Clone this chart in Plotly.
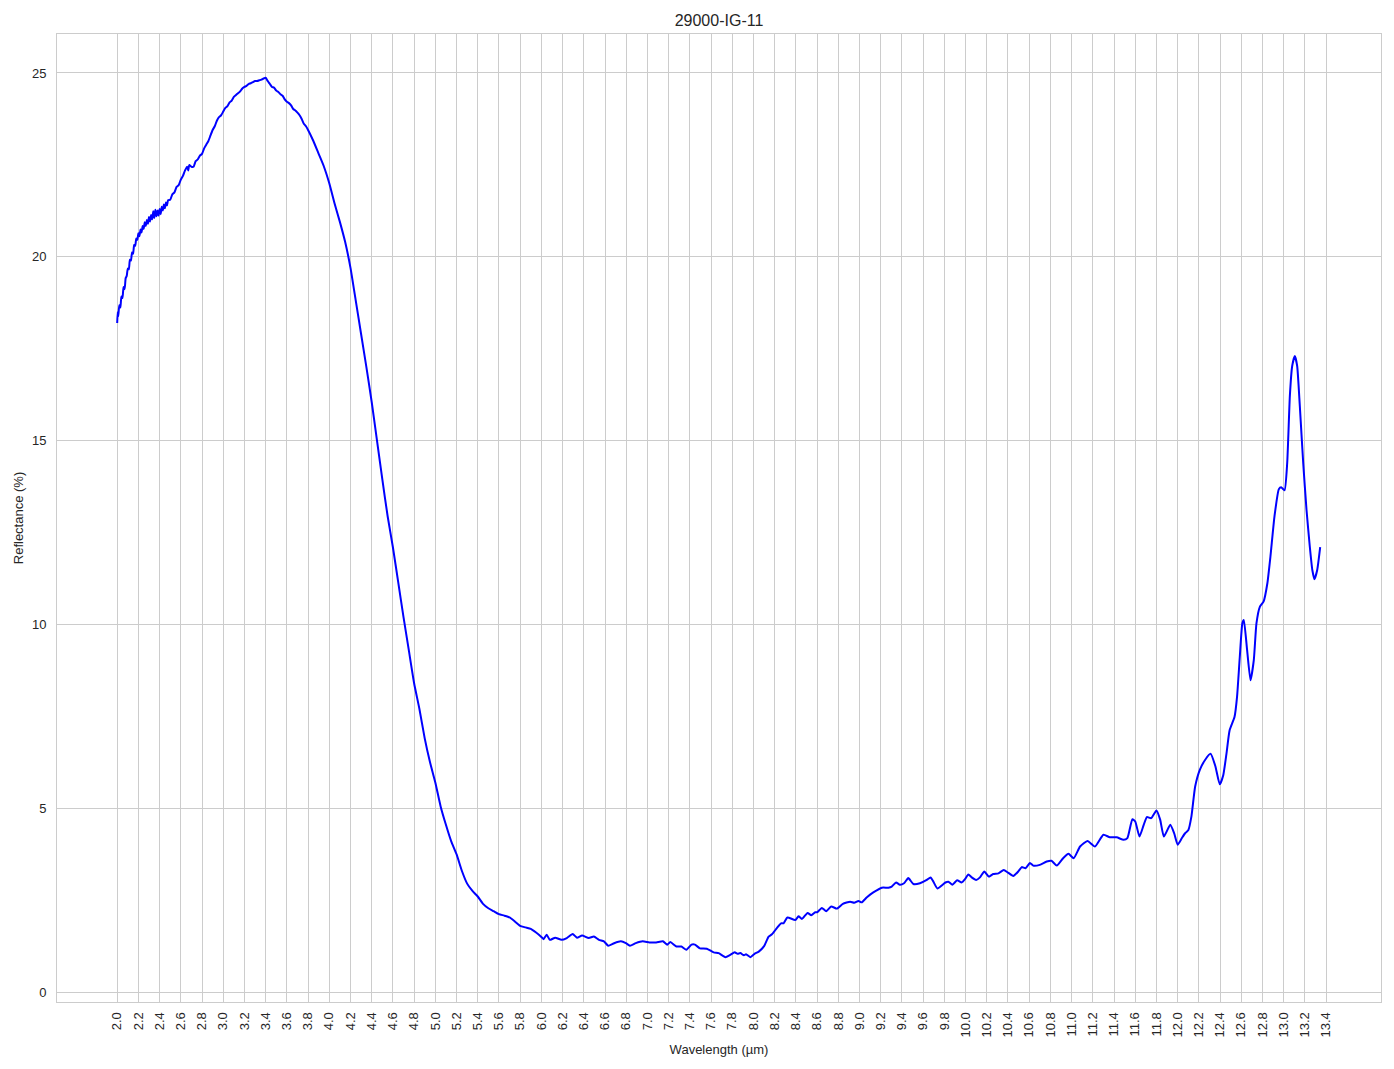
import plotly.graph_objects as go

wavelength = [
    2.000, 2.005, 2.010, 2.020, 2.030, 2.040, 2.050, 2.060, 2.070, 2.080,
    2.090, 2.100, 2.110, 2.120, 2.130, 2.140, 2.150, 2.160, 2.170, 2.180,
    2.190, 2.200, 2.210, 2.220, 2.230, 2.240, 2.250, 2.260, 2.270, 2.280,
    2.290, 2.300, 2.310, 2.320, 2.330, 2.340, 2.350, 2.360, 2.370, 2.380,
    2.390, 2.400, 2.410, 2.420, 2.430, 2.440, 2.450, 2.460, 2.470, 2.480,
    2.500, 2.520, 2.540, 2.560, 2.580, 2.600, 2.620, 2.640, 2.660, 2.670,
    2.680, 2.700, 2.720, 2.740, 2.760, 2.780, 2.800, 2.820, 2.840, 2.860,
    2.880, 2.900, 2.920, 2.940, 2.960, 2.980, 3.000, 3.020, 3.040, 3.060,
    3.080, 3.100, 3.120, 3.140, 3.160, 3.180, 3.200, 3.220, 3.240, 3.260,
    3.280, 3.300, 3.320, 3.340, 3.360, 3.380, 3.400, 3.420, 3.440, 3.460,
    3.480, 3.500, 3.520, 3.540, 3.560, 3.580, 3.600, 3.620, 3.640, 3.660,
    3.680, 3.700, 3.720, 3.740, 3.760, 3.780, 3.800, 3.850, 3.900, 3.950,
    4.000, 4.050, 4.100, 4.150, 4.200, 4.250, 4.300, 4.350, 4.400, 4.450,
    4.500, 4.550, 4.600, 4.650, 4.700, 4.750, 4.800, 4.850, 4.900, 4.950,
    5.000, 5.050, 5.100, 5.150, 5.200, 5.250, 5.300, 5.350, 5.400, 5.450,
    5.500, 5.550, 5.600, 5.650, 5.700, 5.750, 5.800, 5.850, 5.900, 5.950,
    6.000, 6.020, 6.050, 6.080, 6.130, 6.190, 6.240, 6.295, 6.336, 6.384,
    6.447, 6.495, 6.543, 6.590, 6.630, 6.686, 6.750, 6.797, 6.835, 6.890,
    6.955, 7.019, 7.083, 7.146, 7.187, 7.216, 7.273, 7.320, 7.368, 7.416,
    7.448, 7.495, 7.560, 7.625, 7.672, 7.735, 7.780, 7.823, 7.850, 7.876,
    7.910, 7.930, 7.970, 8.010, 8.050, 8.100, 8.143, 8.174, 8.220, 8.260,
    8.284, 8.320, 8.394, 8.425, 8.457, 8.510, 8.545, 8.582, 8.600, 8.645,
    8.686, 8.733, 8.786, 8.843, 8.912, 8.950, 8.990, 9.020, 9.070, 9.130,
    9.210, 9.273, 9.304, 9.345, 9.380, 9.420, 9.460, 9.508, 9.570, 9.634,
    9.670, 9.697, 9.734, 9.810, 9.838, 9.876, 9.920, 9.963, 9.995, 10.026,
    10.058, 10.100, 10.136, 10.177, 10.220, 10.260, 10.310, 10.360, 10.400, 10.450,
    10.497, 10.530, 10.566, 10.607, 10.638, 10.700, 10.765, 10.810, 10.860, 10.920,
    10.970, 11.020, 11.080, 11.150, 11.220, 11.300, 11.360, 11.425, 11.490, 11.526,
    11.573, 11.600, 11.640, 11.680, 11.710, 11.750, 11.800, 11.835, 11.870, 11.930,
    11.967, 12.000, 12.040, 12.070, 12.100, 12.130, 12.165, 12.210, 12.260, 12.310,
    12.355, 12.397, 12.430, 12.460, 12.490, 12.536, 12.560, 12.586, 12.610, 12.624,
    12.655, 12.687, 12.718, 12.743, 12.775, 12.810, 12.846, 12.875, 12.913, 12.954,
    12.976, 13.008, 13.033, 13.058, 13.080, 13.105, 13.127, 13.152, 13.184, 13.215,
    13.246, 13.270, 13.290, 13.316, 13.344,
]

reflectance = [
    18.20, 18.50, 18.38, 18.68, 18.62, 18.92, 18.88, 19.18, 19.12, 19.42,
    19.48, 19.68, 19.66, 19.92, 19.90, 20.12, 20.08, 20.32, 20.30, 20.50,
    20.46, 20.64, 20.56, 20.74, 20.66, 20.84, 20.76, 20.94, 20.84, 21.00,
    20.90, 21.08, 20.96, 21.14, 21.02, 21.24, 21.06, 21.28, 21.10, 21.26,
    21.12, 21.30, 21.16, 21.36, 21.26, 21.42, 21.32, 21.48, 21.40, 21.54,
    21.55, 21.70, 21.75, 21.90, 21.95, 22.10, 22.20, 22.35, 22.45, 22.35,
    22.50, 22.45, 22.45, 22.60, 22.65, 22.75, 22.80, 22.95, 23.05, 23.15,
    23.30, 23.45, 23.55, 23.70, 23.80, 23.85, 23.95, 24.05, 24.10, 24.20,
    24.25, 24.35, 24.40, 24.45, 24.50, 24.58, 24.62, 24.65, 24.70, 24.72,
    24.75, 24.78, 24.78, 24.80, 24.82, 24.85, 24.87, 24.78, 24.70, 24.62,
    24.60, 24.52, 24.48, 24.42, 24.38, 24.28, 24.22, 24.18, 24.12, 24.02,
    23.98, 23.92, 23.85, 23.75, 23.62, 23.55, 23.45, 23.15, 22.80, 22.45,
    22.00, 21.45, 20.95, 20.40, 19.70, 18.80, 17.90, 17.00, 16.05, 15.00,
    13.95, 12.95, 12.10, 11.15, 10.20, 9.30, 8.40, 7.70, 6.90, 6.25,
    5.70, 5.05, 4.55, 4.10, 3.75, 3.30, 2.95, 2.75, 2.60, 2.40,
    2.28, 2.20, 2.12, 2.08, 2.03, 1.92, 1.80, 1.76, 1.72, 1.62,
    1.50, 1.44, 1.56, 1.42, 1.48, 1.42, 1.47, 1.58, 1.48, 1.54,
    1.47, 1.51, 1.42, 1.38, 1.26, 1.33, 1.38, 1.33, 1.26, 1.33,
    1.38, 1.35, 1.35, 1.38, 1.29, 1.36, 1.24, 1.24, 1.15, 1.29,
    1.29, 1.19, 1.18, 1.08, 1.06, 0.95, 1.01, 1.08, 1.04, 1.06,
    1.00, 1.03, 0.95, 1.04, 1.10, 1.25, 1.51, 1.57, 1.74, 1.87,
    1.87, 2.03, 1.96, 2.06, 1.99, 2.15, 2.09, 2.17, 2.17, 2.29,
    2.20, 2.33, 2.27, 2.40, 2.46, 2.43, 2.48, 2.44, 2.58, 2.71,
    2.84, 2.84, 2.87, 2.98, 2.92, 2.96, 3.10, 2.94, 2.96, 3.05,
    3.12, 3.00, 2.82, 2.98, 3.00, 2.92, 3.04, 2.98, 3.07, 3.20,
    3.12, 3.05, 3.12, 3.28, 3.14, 3.21, 3.23, 3.32, 3.25, 3.16,
    3.28, 3.40, 3.37, 3.51, 3.44, 3.46, 3.55, 3.57, 3.44, 3.64,
    3.76, 3.64, 3.96, 4.11, 3.96, 4.28, 4.21, 4.21, 4.14, 4.19,
    4.70, 4.64, 4.23, 4.55, 4.76, 4.73, 4.94, 4.69, 4.23, 4.55,
    4.32, 4.01, 4.19, 4.32, 4.40, 4.78, 5.59, 6.05, 6.32, 6.48,
    6.15, 5.65, 5.90, 6.48, 7.12, 7.48, 8.03, 9.12, 10.03, 10.12,
    9.30, 8.48, 9.03, 10.03, 10.48, 10.62, 11.12, 11.85, 12.94, 13.68,
    13.73, 13.65, 14.39, 16.21, 17.03, 17.30, 17.03, 15.94, 14.39, 13.12,
    12.12, 11.48, 11.23, 11.48, 12.10,
]

x_tick_values = [
    2.0, 2.2, 2.4, 2.6, 2.8, 3.0, 3.2, 3.4, 3.6, 3.8, 4.0, 4.2, 4.4, 4.6, 4.8,
    5.0, 5.2, 5.4, 5.6, 5.8, 6.0, 6.2, 6.4, 6.6, 6.8, 7.0, 7.2, 7.4, 7.6, 7.8,
    8.0, 8.2, 8.4, 8.6, 8.8, 9.0, 9.2, 9.4, 9.6, 9.8, 10.0, 10.2, 10.4, 10.6,
    10.8, 11.0, 11.2, 11.4, 11.6, 11.8, 12.0, 12.2, 12.4, 12.6, 12.8, 13.0,
    13.2, 13.4,
]
x_tick_labels = [
    "2.0", "2.2", "2.4", "2.6", "2.8", "3.0", "3.2", "3.4", "3.6", "3.8", "4.0",
    "4.2", "4.4", "4.6", "4.8", "5.0", "5.2", "5.4", "5.6", "5.8", "6.0", "6.2",
    "6.4", "6.6", "6.8", "7.0", "7.2", "7.4", "7.6", "7.8", "8.0", "8.2", "8.4",
    "8.6", "8.8", "9.0", "9.2", "9.4", "9.6", "9.8", "10.0", "10.2", "10.4",
    "10.6", "10.8", "11.0", "11.2", "11.4", "11.6", "11.8", "12.0", "12.2",
    "12.4", "12.6", "12.8", "13.0", "13.2", "13.4",
]
y_tick_values = [0, 5, 10, 15, 20, 25]
y_tick_labels = ["0", "5", "10", "15", "20", "25"]

TEXT = "#262626"
GRID = "#cccccc"
FONT = "Liberation Sans, Arial, sans-serif"

fig = go.Figure()
fig.add_trace(go.Scatter(
    x=wavelength, y=reflectance, mode="lines",
    line=dict(color="#0000ff", width=2, shape="spline", smoothing=0.5),
    showlegend=False,
))

fig.update_layout(
    width=1394, height=1069,
    margin=dict(l=57, r=13, t=34, b=67),
    paper_bgcolor="white", plot_bgcolor="white",
    font=dict(family=FONT, color=TEXT, size=13),
    title=dict(text="29000-IG-11", x=0.5, xref="paper", xanchor="center",
               y=1 - 20 / 1069, yref="container", yanchor="middle",
               font=dict(size=16, color=TEXT, family=FONT)),
    xaxis=dict(
        range=[1.4325, 13.9175], automargin=False,
        tickmode="array", tickvals=x_tick_values, ticktext=x_tick_labels,
        tickangle=-90, ticks="", ticklabelstandoff=4,
        showgrid=True, gridcolor=GRID, gridwidth=1,
        zeroline=False, showline=True, linecolor=GRID, linewidth=1, mirror=True,
        tickfont=dict(size=13, color=TEXT),
        title=dict(text="Wavelength (µm)", font=dict(size=13, color=TEXT), standoff=8),
    ),
    yaxis=dict(
        range=[-0.27, 26.06], automargin=False,
        tickmode="array", tickvals=y_tick_values, ticktext=y_tick_labels,
        ticks="", ticklabelstandoff=7,
        showgrid=True, gridcolor=GRID, gridwidth=1,
        zeroline=False, showline=True, linecolor=GRID, linewidth=1, mirror=True,
        tickfont=dict(size=13, color=TEXT),
        title=dict(text="Reflectance (%)", font=dict(size=13, color=TEXT), standoff=5),
    ),
)

fig.write_html(
    "out.html",
    config={"displayModeBar": False},
    post_script="document.body.style.margin='0';document.body.style.padding='0';",
)
